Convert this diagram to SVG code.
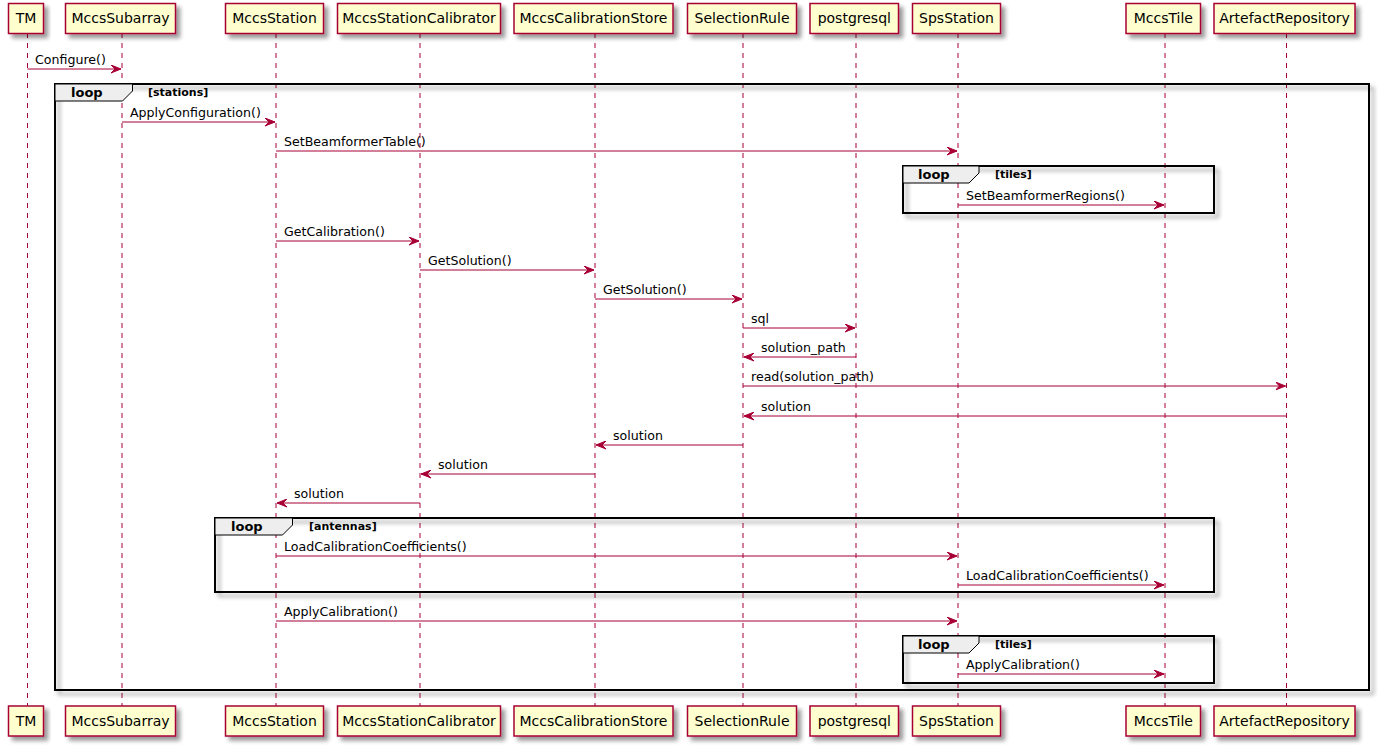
<svg xmlns="http://www.w3.org/2000/svg" width="1379" height="746" viewBox="0 0 1379 746">
<defs>
<filter id="sh" x="-10%" y="-10%" width="130%" height="140%">
<feGaussianBlur in="SourceAlpha" stdDeviation="2"/>
<feOffset dx="4" dy="4" result="b"/>
<feComponentTransfer><feFuncA type="linear" slope="0.4"/></feComponentTransfer>
<feMerge><feMergeNode/><feMergeNode in="SourceGraphic"/></feMerge>
</filter>
<marker id="ah" markerWidth="11" markerHeight="9" refX="10" refY="4.5" orient="auto" markerUnits="userSpaceOnUse">
<polygon points="0,0.5 10,4.5 0,8.5 4,4.5" fill="#A80036" stroke="#A80036" stroke-width="1"/>
</marker>
</defs>
<style>
text{font-family:"DejaVu Sans",Verdana,sans-serif;fill:#000}
.pb{fill:#FEFECE;stroke:#A80036;stroke-width:1.5}
.pt{font-size:14px;text-anchor:middle}
.ll{stroke:#A80036;stroke-width:1;stroke-dasharray:5,5}
.m{stroke:#A80036;stroke-width:1;fill:none;marker-end:url(#ah)}
.mt{font-size:12.6px}
.fr{fill:none;stroke:#000;stroke-width:2}
.tab{fill:#EEEEEE;stroke:#000;stroke-width:1}
.lk{font-size:13px;font-weight:bold}
.lc{font-size:11px;font-weight:bold}
</style>
<rect width="1379" height="746" fill="#fff"/>
<g id="lifelines">
<line class="ll" x1="27.5" y1="33" x2="27.5" y2="706"/>
<line class="ll" x1="122" y1="33" x2="122" y2="706"/>
<line class="ll" x1="276" y1="33" x2="276" y2="706"/>
<line class="ll" x1="420" y1="33" x2="420" y2="706"/>
<line class="ll" x1="595" y1="33" x2="595" y2="706"/>
<line class="ll" x1="743" y1="33" x2="743" y2="706"/>
<line class="ll" x1="856" y1="33" x2="856" y2="706"/>
<line class="ll" x1="958" y1="33" x2="958" y2="706"/>
<line class="ll" x1="1165" y1="33" x2="1165" y2="706"/>
<line class="ll" x1="1286.5" y1="33" x2="1286.5" y2="706"/>
</g>
<g id="p-TM"><rect class="pb" x="8.5" y="3.5" width="35" height="30" filter="url(#sh)"/><text class="pt" x="26" y="23">TM</text>
<rect class="pb" x="8.5" y="706" width="35" height="30" filter="url(#sh)"/><text class="pt" x="26" y="726">TM</text></g>
<g id="p-MccsSubarray"><rect class="pb" x="65.5" y="3.5" width="110" height="30" filter="url(#sh)"/><text class="pt" x="120.5" y="23">MccsSubarray</text>
<rect class="pb" x="65.5" y="706" width="110" height="30" filter="url(#sh)"/><text class="pt" x="120.5" y="726">MccsSubarray</text></g>
<g id="p-MccsStation"><rect class="pb" x="225.5" y="3.5" width="98" height="30" filter="url(#sh)"/><text class="pt" x="274.5" y="23">MccsStation</text>
<rect class="pb" x="225.5" y="706" width="98" height="30" filter="url(#sh)"/><text class="pt" x="274.5" y="726">MccsStation</text></g>
<g id="p-MccsStationCalibrator"><rect class="pb" x="337.5" y="3.5" width="163" height="30" filter="url(#sh)"/><text class="pt" x="419" y="23">MccsStationCalibrator</text>
<rect class="pb" x="337.5" y="706" width="163" height="30" filter="url(#sh)"/><text class="pt" x="419" y="726">MccsStationCalibrator</text></g>
<g id="p-MccsCalibrationStore"><rect class="pb" x="514" y="3.5" width="159" height="30" filter="url(#sh)"/><text class="pt" x="593.5" y="23">MccsCalibrationStore</text>
<rect class="pb" x="514" y="706" width="159" height="30" filter="url(#sh)"/><text class="pt" x="593.5" y="726">MccsCalibrationStore</text></g>
<g id="p-SelectionRule"><rect class="pb" x="687.5" y="3.5" width="109" height="30" filter="url(#sh)"/><text class="pt" x="742" y="23">SelectionRule</text>
<rect class="pb" x="687.5" y="706" width="109" height="30" filter="url(#sh)"/><text class="pt" x="742" y="726">SelectionRule</text></g>
<g id="p-postgresql"><rect class="pb" x="810" y="3.5" width="88.5" height="30" filter="url(#sh)"/><text class="pt" x="854.3" y="23">postgresql</text>
<rect class="pb" x="810" y="706" width="88.5" height="30" filter="url(#sh)"/><text class="pt" x="854.3" y="726">postgresql</text></g>
<g id="p-SpsStation"><rect class="pb" x="912.5" y="3.5" width="88" height="30" filter="url(#sh)"/><text class="pt" x="956.5" y="23">SpsStation</text>
<rect class="pb" x="912.5" y="706" width="88" height="30" filter="url(#sh)"/><text class="pt" x="956.5" y="726">SpsStation</text></g>
<g id="p-MccsTile"><rect class="pb" x="1126" y="3.5" width="74.5" height="30" filter="url(#sh)"/><text class="pt" x="1163.3" y="23">MccsTile</text>
<rect class="pb" x="1126" y="706" width="74.5" height="30" filter="url(#sh)"/><text class="pt" x="1163.3" y="726">MccsTile</text></g>
<g id="p-ArtefactRepository"><rect class="pb" x="1214" y="3.5" width="141" height="30" filter="url(#sh)"/><text class="pt" x="1284.5" y="23">ArtefactRepository</text>
<rect class="pb" x="1214" y="706" width="141" height="30" filter="url(#sh)"/><text class="pt" x="1284.5" y="726">ArtefactRepository</text></g>
<g id="frames">
<rect class="fr" x="55" y="84" width="1314" height="606" filter="url(#sh)"/>
<polygon class="tab" points="55,84 132.5,84 132.5,91 122.5,101 55,101"/>
<text class="lk" x="71" y="97">loop</text><text class="lc" x="148" y="96">[stations]</text>
<rect class="fr" x="903" y="166" width="311" height="47" filter="url(#sh)"/>
<polygon class="tab" points="903,166 979,166 979,173 969,183 903,183"/>
<text class="lk" x="918" y="179">loop</text><text class="lc" x="995" y="178">[tiles]</text>
<rect class="fr" x="215" y="518" width="999" height="74" filter="url(#sh)"/>
<polygon class="tab" points="215,518 292.5,518 292.5,525 282.5,535 215,535"/>
<text class="lk" x="231" y="531">loop</text><text class="lc" x="309" y="530">[antennas]</text>
<rect class="fr" x="903" y="636" width="311" height="47" filter="url(#sh)"/>
<polygon class="tab" points="903,636 979,636 979,643 969,653 903,653"/>
<text class="lk" x="918" y="649">loop</text><text class="lc" x="995" y="648">[tiles]</text>
</g>
<g id="connectors">
<line class="m" x1="27.5" y1="69" x2="121" y2="69"/>
<line class="m" x1="122" y1="122" x2="275" y2="122"/>
<line class="m" x1="276" y1="151" x2="957" y2="151"/>
<line class="m" x1="958" y1="205" x2="1164" y2="205"/>
<line class="m" x1="276" y1="241" x2="419" y2="241"/>
<line class="m" x1="420" y1="270" x2="594" y2="270"/>
<line class="m" x1="595" y1="299" x2="742" y2="299"/>
<line class="m" x1="743" y1="328" x2="855" y2="328"/>
<line class="m" x1="856" y1="357" x2="744" y2="357"/>
<line class="m" x1="743" y1="386" x2="1285.5" y2="386"/>
<line class="m" x1="1286.5" y1="416" x2="744" y2="416"/>
<line class="m" x1="743" y1="445" x2="596" y2="445"/>
<line class="m" x1="595" y1="474" x2="421" y2="474"/>
<line class="m" x1="420" y1="503" x2="277" y2="503"/>
<line class="m" x1="276" y1="556" x2="957" y2="556"/>
<line class="m" x1="958" y1="585" x2="1164" y2="585"/>
<line class="m" x1="276" y1="621" x2="957" y2="621"/>
<line class="m" x1="958" y1="674" x2="1164" y2="674"/>
</g>
<g id="labels">
<text class="mt" x="35" y="64">Configure()</text>
<text class="mt" x="130" y="117">ApplyConfiguration()</text>
<text class="mt" x="284" y="146">SetBeamformerTable()</text>
<text class="mt" x="966" y="200">SetBeamformerRegions()</text>
<text class="mt" x="284" y="236">GetCalibration()</text>
<text class="mt" x="428" y="265">GetSolution()</text>
<text class="mt" x="603" y="294">GetSolution()</text>
<text class="mt" x="751" y="323">sql</text>
<text class="mt" x="761" y="352">solution_path</text>
<text class="mt" x="751" y="381">read(solution_path)</text>
<text class="mt" x="761" y="411">solution</text>
<text class="mt" x="613" y="440">solution</text>
<text class="mt" x="438" y="469">solution</text>
<text class="mt" x="294" y="498">solution</text>
<text class="mt" x="284" y="551">LoadCalibrationCoefficients()</text>
<text class="mt" x="966" y="580">LoadCalibrationCoefficients()</text>
<text class="mt" x="284" y="616">ApplyCalibration()</text>
<text class="mt" x="966" y="669">ApplyCalibration()</text>
</g>
</svg>
